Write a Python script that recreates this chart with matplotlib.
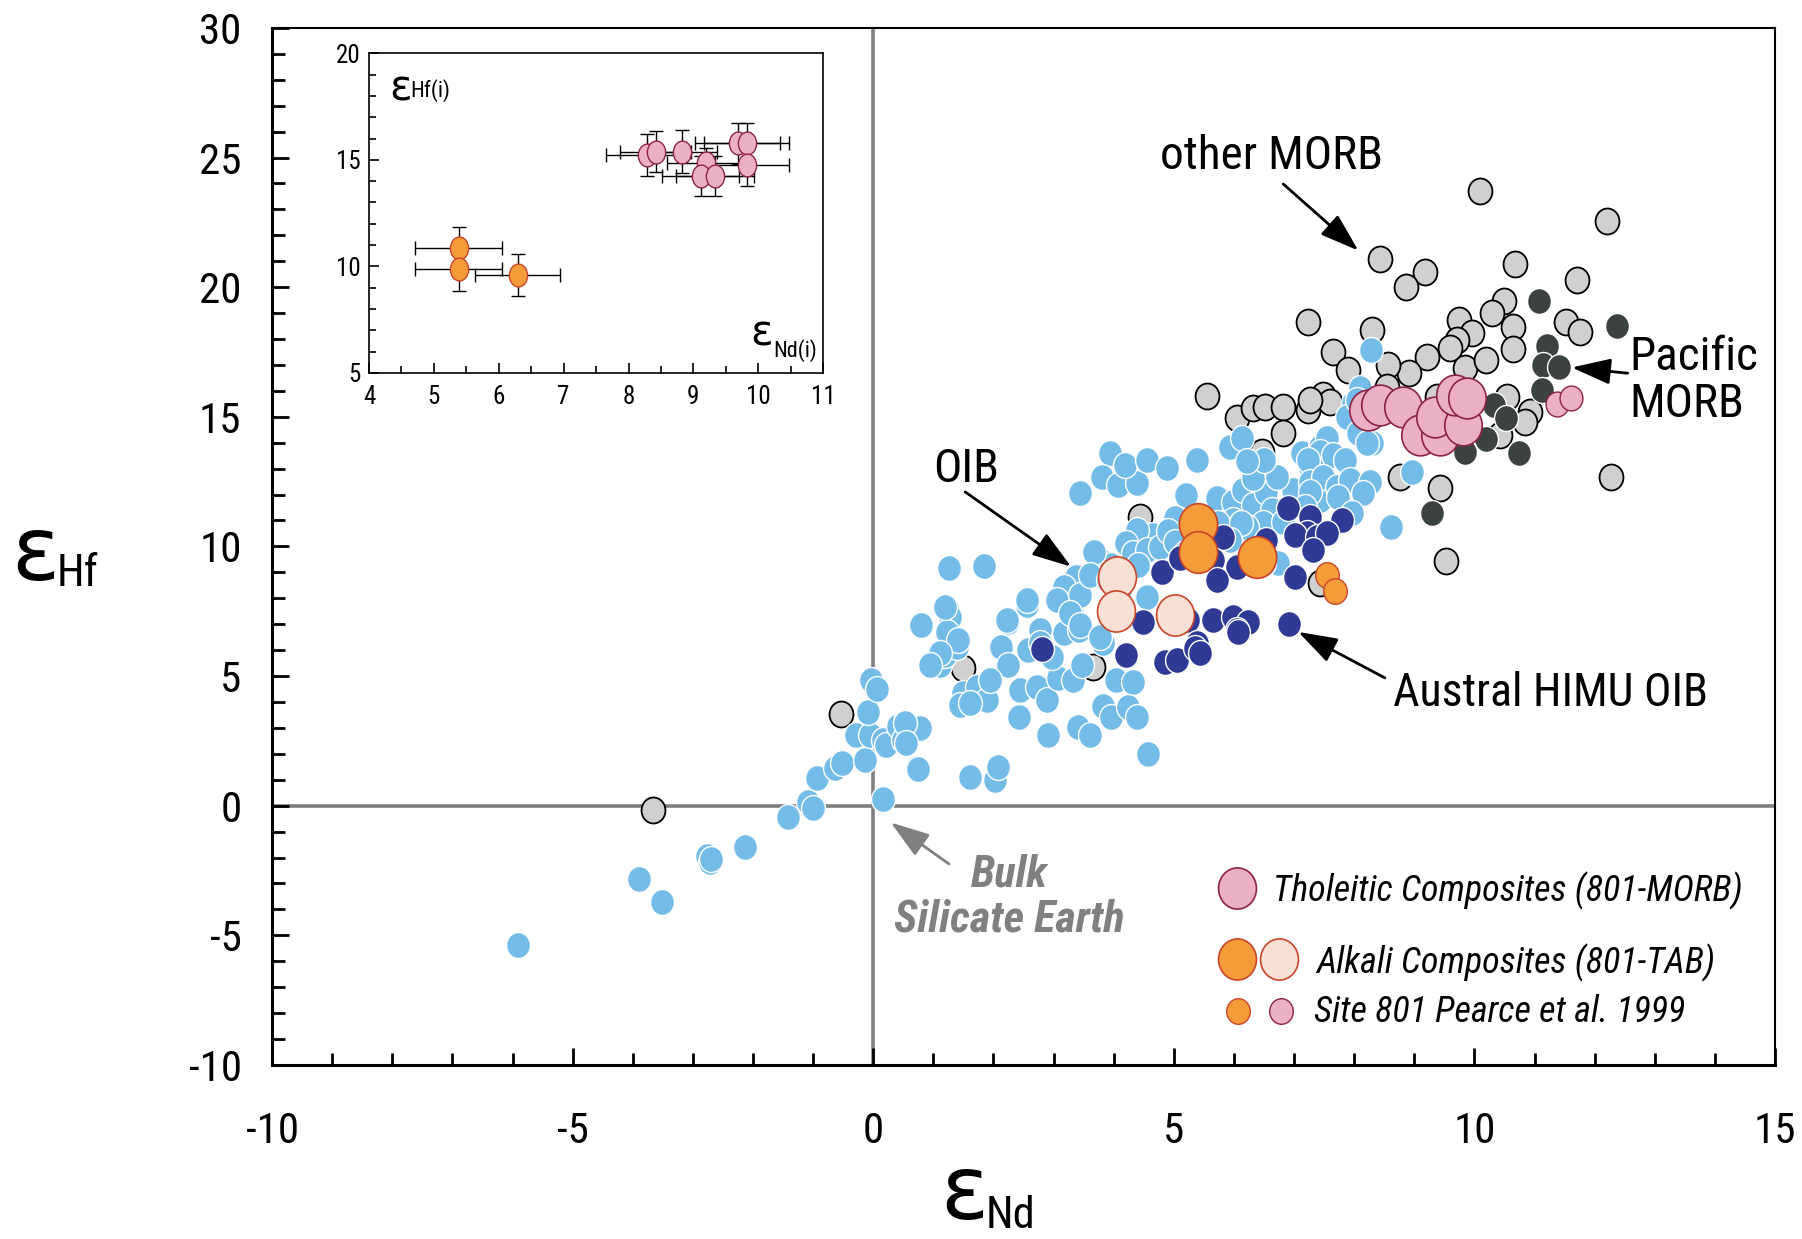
import numpy as np
import matplotlib
matplotlib.use('Agg')
import matplotlib.pyplot as plt
from matplotlib.path import Path
from matplotlib.ticker import MultipleLocator
from matplotlib import font_manager

# pick a narrow sans if one is installed, otherwise shrink the regular one
names = {f.name for f in font_manager.fontManager.ttflist}
narrow = None
for cand in ['Liberation Sans Narrow', 'Roboto Condensed', 'Open Sans Condensed', 'DejaVu Sans Condensed']:
    if cand in names:
        narrow = cand
        break
if narrow:
    plt.rcParams['font.family'] = [narrow, 'Liberation Sans', 'DejaVu Sans']
    k = 1.0
else:
    plt.rcParams['font.family'] = ['Liberation Sans', 'DejaVu Sans']
    k = 0.86
plt.rcParams['axes.unicode_minus'] = False

# other MORB (light grey, black edge)
morb_nd = [10.10, 12.20, 8.43, 9.17, 8.87, 10.67, 11.70, 10.49, 10.30, 10.65, 10.64, 11.52, 11.75,
           9.74, 9.96, 9.71, 9.59, 9.84, 10.19, 9.21, 8.92, 8.56, 8.29, 7.64, 7.89, 7.24, 5.55,
           6.05, 6.31, 6.51, 6.81, 7.23, 7.48, 7.60, 10.54, 10.92, 10.84, 8.54, 9.37, 7.26, 10.42,
           8.76, 9.43, 12.27, 9.52, 6.81, 6.46, 4.44, 7.43, 1.49, 3.65, -0.54, -3.67]
morb_hf = [23.70, 22.55, 21.09, 20.58, 20.01, 20.89, 20.27, 19.46, 19.00, 18.46, 17.61, 18.65, 18.27,
           18.73, 18.23, 17.96, 17.65, 16.88, 17.19, 17.31, 16.69, 17.00, 18.35, 17.50, 16.81, 18.65, 15.80,
           14.95, 15.34, 15.38, 15.38, 15.26, 15.84, 15.57, 15.76, 15.18, 14.80, 16.15, 15.76, 15.65, 14.30,
           12.68, 12.25, 12.68, 9.43, 14.37, 13.64, 11.13, 8.59, 5.30, 5.36, 3.54, -0.16]

# Pacific MORB (dark grey)
pac_nd = [11.07, 12.37, 11.20, 11.14, 11.40, 11.12, 10.32, 10.52, 10.20, 9.84, 10.74, 9.29]
pac_hf = [19.45, 18.50, 17.73, 17.00, 16.92, 16.03, 15.46, 14.96, 14.14, 13.64, 13.60, 11.29]

# OIB (light blue)
oib_nd = [-5.91, -3.90, -3.52, -2.77, -2.72, -2.70, -2.14, -1.42, -1.09, -1.01, -0.94, -0.64, -0.52,
          -0.14, -0.29, -0.06, 0.16, 0.22, 0.41, 0.52, 0.77, 0.49, -0.08, -0.04, 0.06, 0.16, 0.72, 0.74,
          0.78, 0.52, 0.55, 1.61, 2.02, 2.07,
          1.11, 1.19, 1.39, 2.15, 1.49, 1.72, 1.89, 1.44,
          0.79, 1.22, 1.27, 1.22, 1.41, 1.11, 0.94,
          2.24, 2.13, 2.24, 1.94, 1.61,
          2.44, 2.72, 2.89, 3.07, 3.32, 3.47, 2.77, 2.57, 2.97, 3.18, 3.43, 3.30, 3.82, 4.03, 4.32,
          2.42, 2.91, 3.41, 3.60, 3.82, 3.96, 4.23, 4.38, 4.57, 2.55,
          1.26, 1.84, 1.19,
          3.44, 3.94, 3.80, 4.07, 4.38, 4.18, 4.55, 4.88, 5.38, 5.93, 6.13,
          5.21, 5.02, 4.65, 4.38, 4.21, 4.32, 4.55, 4.77, 3.77, 3.95, 4.10, 3.38, 3.18, 3.05, 3.44,
          3.27, 3.44, 3.77, 4.55, 2.77, 2.55, 2.22, 3.68, 3.60, 3.90, 4.40, 4.90, 5.30,
          5.71, 5.98, 6.15, 6.31, 6.54, 6.64, 6.48, 6.81, 5.98, 6.21, 5.02, 5.18, 6.73, 6.43,
          7.26, 7.13, 7.43, 7.34, 6.98, 7.43, 6.31, 6.71, 6.50, 6.21, 5.73, 6.12, 5.93, 6.31, 6.50, 5.54,
          8.28, 8.10, 7.98, 7.88, 8.06, 8.29, 7.54, 7.43, 7.64, 7.84, 7.23, 7.26, 7.48, 7.71, 7.93,
          8.26, 8.14, 7.73, 7.26, 7.96, 8.96, 8.62, 7.18, 8.04, 8.22]
oib_hf = [-5.36, -2.83, -3.72, -1.95, -2.17, -2.05, -1.59, -0.43, 0.15, -0.08, 1.07, 1.46, 1.65,
          1.76, 2.72, 2.72, 2.53, 2.34, 3.07, 3.22, 2.95, 2.53, 3.61, 4.85, 4.50, 0.27, 1.46, 1.40,
          2.99, 3.18, 2.41, 1.12, 1.00, 1.49,
          5.43, 5.81, 6.13, 6.08, 4.35, 4.58, 4.08, 3.88,
          6.97, 7.63, 7.28, 6.70, 6.39, 5.89, 5.43,
          7.08, 6.12, 5.42, 4.84, 3.96,
          4.46, 4.58, 4.08, 4.93, 4.85, 5.42, 6.78, 6.01, 5.74, 6.66, 6.78, 7.43, 6.27, 4.84, 4.77,
          3.43, 2.72, 3.03, 2.72, 3.84, 3.43, 3.82, 3.43, 2.00, 7.74,
          9.17, 9.26, 7.66,
          12.05, 13.59, 12.68, 12.37, 12.45, 13.14, 13.33, 13.02, 13.33, 13.84, 14.18,
          11.99, 11.10, 10.44, 10.64, 10.14, 9.75, 9.86, 9.98, 9.48, 9.30, 8.32, 8.82, 8.44, 7.94, 8.13,
          7.44, 6.97, 6.51, 8.05, 6.27, 7.93, 7.16, 9.79, 8.90, 8.70, 9.30, 10.60, 10.80,
          11.87, 11.71, 12.17, 11.60, 12.10, 11.41, 10.91, 10.95, 11.03, 10.76, 10.18, 9.75, 9.36, 9.28,
          13.07, 13.61, 13.84, 12.64, 12.17, 11.79, 12.64, 12.68, 13.35, 13.30, 10.90, 10.90, 10.25, 9.80, 9.36, 9.80,
          17.57, 16.11, 15.53, 15.00, 14.37, 13.99, 14.18, 13.64, 13.53, 13.33, 13.33, 12.49, 12.68, 12.30, 12.56,
          12.49, 12.06, 11.91, 12.10, 11.29, 12.87, 10.75, 11.52, 15.65, 14.00]

# Austral HIMU OIB (navy)
himu_nd = [6.90, 7.26, 7.21, 7.34, 7.01, 7.79, 7.38, 7.54, 5.81, 5.65, 6.05, 5.71, 6.54, 4.80, 5.10,
           7.01, 4.48, 5.65, 5.98, 6.23, 6.05, 5.23, 6.91, 2.81, 5.38, 4.20, 4.85, 5.05, 5.35, 5.43,
           6.07, 7.31]
himu_hf = [11.48, 11.14, 10.52, 10.06, 10.44, 11.02, 10.37, 10.52, 10.37, 9.48, 9.21, 8.71, 10.25, 9.01, 9.55,
           8.82, 7.08, 7.16, 7.28, 7.08, 6.77, 7.16, 7.01, 6.05, 6.27, 5.81, 5.55, 5.62, 6.08, 5.89,
           6.70, 9.87]

# Site 801 composites
thol_nd = [8.23, 8.43, 8.81, 9.09, 9.43, 9.34, 9.81, 9.67, 9.87]
thol_hf = [15.26, 15.46, 15.38, 14.30, 14.30, 15.00, 14.69, 15.84, 15.72]
alk_nd = [5.41, 5.40, 6.38]
alk_hf = [10.86, 9.79, 9.60]
alk_lt_nd = [4.05, 4.03, 5.02]
alk_lt_hf = [8.82, 7.51, 7.35]
pearce_pink_nd = [11.38, 11.60]
pearce_pink_hf = [15.50, 15.72]
pearce_or_nd = [7.54, 7.68]
pearce_or_hf = [8.90, 8.28]

# inset (initial values with errors)
ins_pink_nd = [8.28, 8.42, 8.82, 9.20, 9.11, 9.33, 9.68, 9.82, 9.82]
ins_pink_hf = [15.23, 15.38, 15.38, 14.84, 14.24, 14.24, 15.77, 15.77, 14.76]
ins_pink_xerr = [0.62, 0.55, 0.55, 0.6, 0.6, 0.6, 0.65, 0.65, 0.65]
ins_pink_yerr = [1.0, 0.95, 1.0, 0.7, 0.95, 0.95, 0.95, 0.95, 1.0]
ins_or_nd = [5.38, 5.38, 6.29]
ins_or_hf = [10.85, 9.86, 9.59]
ins_or_xerr = [0.67, 0.67, 0.66]
ins_or_yerr = [1.0, 1.0, 1.0]

c_blue = '#74BCE8'
c_navy = '#2E3A94'
c_grey = '#D0D0D0'
c_dark = '#3C4242'
c_pink = '#EBAFC6'
c_pink_e = '#8C2344'
c_orange = '#F59C3A'
c_orange_e = '#C9452A'
c_peach = '#F9E0D4'

circ = Path.unit_circle()
ell = Path(circ.vertices * np.array([0.92, 1.0]), circ.codes)
ell_in = Path(circ.vertices * np.array([0.8, 1.0]), circ.codes)

fig = plt.figure(figsize=(18.02, 12.39), dpi=100)
ax = fig.add_axes([0.151, 0.1405, 0.834, 0.837])
ax.set_xlim(-10, 15)
ax.set_ylim(-10, 30)

ax.axvline(0, color='#7F7F7F', lw=2.6, zorder=1)
ax.axhline(0, color='#7F7F7F', lw=2.6, zorder=1)

s_small = 350
ax.scatter(morb_nd, morb_hf, s=s_small, marker=ell, c=c_grey, edgecolors='black', linewidths=1.3, zorder=2)
ax.scatter(pac_nd, pac_hf, s=s_small, marker=ell, c=c_dark, edgecolors='white', linewidths=1.0, zorder=3)
ax.scatter(oib_nd, oib_hf, s=s_small, marker=ell, c=c_blue, edgecolors='white', linewidths=1.0, zorder=4)
ax.scatter(himu_nd, himu_hf, s=s_small, marker=ell, c=c_navy, edgecolors='white', linewidths=1.0, zorder=5)
ax.scatter(pearce_pink_nd, pearce_pink_hf, s=320, marker=ell, c=c_pink, edgecolors=c_pink_e, linewidths=1.0, zorder=6)
ax.scatter(pearce_or_nd, pearce_or_hf, s=340, marker=ell, c=c_orange, edgecolors=c_orange_e, linewidths=1.0, zorder=6)
ax.scatter(alk_lt_nd, alk_lt_hf, s=880, marker=ell, c=c_peach, edgecolors=c_orange_e, linewidths=1.2, zorder=7)
ax.scatter(alk_nd, alk_hf, s=900, marker=ell, c=c_orange, edgecolors=c_orange_e, linewidths=1.2, zorder=7)
ax.scatter(thol_nd, thol_hf, s=860, marker=ell, c=c_pink, edgecolors=c_pink_e, linewidths=1.2, zorder=8)

# axes styling
for side in ['left', 'bottom']:
    ax.spines[side].set_linewidth(2.2)
for side in ['top', 'right']:
    ax.spines[side].set_linewidth(1.5)
ax.xaxis.set_major_locator(MultipleLocator(5))
ax.xaxis.set_minor_locator(MultipleLocator(1))
ax.yaxis.set_major_locator(MultipleLocator(5))
ax.yaxis.set_minor_locator(MultipleLocator(1))
ax.tick_params(which='both', direction='in', width=2, top=False, right=False)
ax.tick_params(which='major', length=12, labelsize=31 * k)
ax.tick_params(which='minor', length=9)
ax.tick_params(axis='y', which='major', pad=22)
ax.tick_params(axis='x', which='major', pad=33)

# axis labels
fig.text(0.006, 0.532, 'ε', fontsize=64, family='DejaVu Sans', va='baseline')
fig.text(0.0315, 0.527, 'Hf', fontsize=32 * k, va='baseline')
fig.text(0.522, 0.016, 'ε', fontsize=64, family='DejaVu Sans', va='baseline')
fig.text(0.547, 0.009, 'Nd', fontsize=32 * k, va='baseline')

# annotations
fs_a = 34 * k
arrow_k = dict(arrowstyle='-|>,head_length=1.2,head_width=0.4', color='black', lw=2,
               mutation_scale=20, shrinkA=0, shrinkB=0)
ax.text(6.63, 25.05, 'other MORB', fontsize=fs_a, ha='center', va='center', zorder=10)
ax.annotate('', xy=(8.07, 21.41), xytext=(6.82, 23.98), arrowprops=arrow_k, zorder=10)
ax.text(12.58, 16.4, 'Pacific\nMORB', fontsize=fs_a, ha='left', va='center', linespacing=1.1, zorder=10)
ax.annotate('', xy=(11.62, 16.90), xytext=(12.55, 16.68), arrowprops=arrow_k, zorder=10)
ax.text(1.55, 13.0, 'OIB', fontsize=fs_a, ha='center', va='center', zorder=10)
ax.annotate('', xy=(3.29, 9.22), xytext=(1.53, 12.1), arrowprops=arrow_k, zorder=10)
ax.text(8.64, 4.36, 'Austral HIMU OIB', fontsize=33 * k, ha='left', va='center', zorder=10)
ax.annotate('', xy=(7.07, 6.70), xytext=(8.51, 4.93), arrowprops=arrow_k, zorder=10)
ax.text(2.26, -3.53, 'Bulk\nSilicate Earth', fontsize=32 * k, ha='center', va='center', color='#808080',
        fontweight='bold', style='italic', linespacing=1.1, zorder=10)
arrow_g = dict(arrow_k, color='#808080')
ax.annotate('', xy=(0.29, -0.65), xytext=(1.26, -2.25), arrowprops=arrow_g, zorder=10)

# legend
lt = ax.transAxes
fs_l = 26 * k
ax.scatter([0.642], [0.1705], s=880, marker=ell, c=c_pink, edgecolors=c_pink_e, linewidths=1.2, transform=lt, zorder=10)
ax.text(0.666, 0.168, 'Tholeitic Composites (801-MORB)', transform=lt, fontsize=fs_l, style='italic', va='center')
ax.scatter([0.642], [0.102], s=880, marker=ell, c=c_orange, edgecolors=c_orange_e, linewidths=1.2, transform=lt, zorder=10)
ax.scatter([0.670], [0.102], s=880, marker=ell, c=c_peach, edgecolors=c_orange_e, linewidths=1.2, transform=lt, zorder=10)
ax.text(0.695, 0.0986, 'Alkali Composites (801-TAB)', transform=lt, fontsize=fs_l, style='italic', va='center')
ax.scatter([0.643], [0.052], s=340, marker=ell, c=c_orange, edgecolors=c_orange_e, linewidths=1.0, transform=lt, zorder=10)
ax.scatter([0.671], [0.052], s=340, marker=ell, c=c_pink, edgecolors=c_pink_e, linewidths=1.0, transform=lt, zorder=10)
ax.text(0.693, 0.051, 'Site 801 Pearce et al. 1999', transform=lt, fontsize=fs_l, style='italic', va='center')

# inset
ins = fig.add_axes([0.2048, 0.699, 0.252, 0.258])
ins.set_xlim(4, 11)
ins.set_ylim(5, 20)
ins.errorbar(ins_or_nd, ins_or_hf, xerr=ins_or_xerr, yerr=ins_or_yerr, fmt='none', ecolor='black',
             elinewidth=1.0, capsize=5, capthick=1.0, zorder=2)
ins.errorbar(ins_pink_nd, ins_pink_hf, xerr=ins_pink_xerr, yerr=ins_pink_yerr, fmt='none', ecolor='black',
             elinewidth=1.0, capsize=5, capthick=1.0, zorder=2)
ins.scatter(ins_or_nd, ins_or_hf, s=270, marker=ell_in, c=c_orange, edgecolors=c_orange_e, linewidths=1.0, zorder=3)
ins.scatter(ins_pink_nd, ins_pink_hf, s=270, marker=ell_in, c=c_pink, edgecolors=c_pink_e, linewidths=1.0, zorder=3)
for sp in ins.spines.values():
    sp.set_linewidth(1.2)
ins.xaxis.set_major_locator(MultipleLocator(1))
ins.xaxis.set_minor_locator(MultipleLocator(0.5))
ins.yaxis.set_major_locator(MultipleLocator(5))
ins.yaxis.set_minor_locator(MultipleLocator(1))
ins.tick_params(which='both', direction='in', width=1.2, top=False, right=False, labelsize=18 * k)
ins.tick_params(which='major', length=7)
ins.tick_params(which='minor', length=5)
ins.tick_params(axis='x', pad=9)
ins.tick_params(axis='y', pad=6)
ins.text(0.045, 0.955, 'ε', transform=ins.transAxes, fontsize=30, family='DejaVu Sans', va='top')
ins.text(0.09, 0.865, 'Hf(i)', transform=ins.transAxes, fontsize=16 * k, va='baseline')
ins.text(0.84, 0.085, 'ε', transform=ins.transAxes, fontsize=30, family='DejaVu Sans', va='baseline')
ins.text(0.89, 0.05, 'Nd(i)', transform=ins.transAxes, fontsize=16 * k, va='baseline')

fig.savefig('out.png', dpi=100)
